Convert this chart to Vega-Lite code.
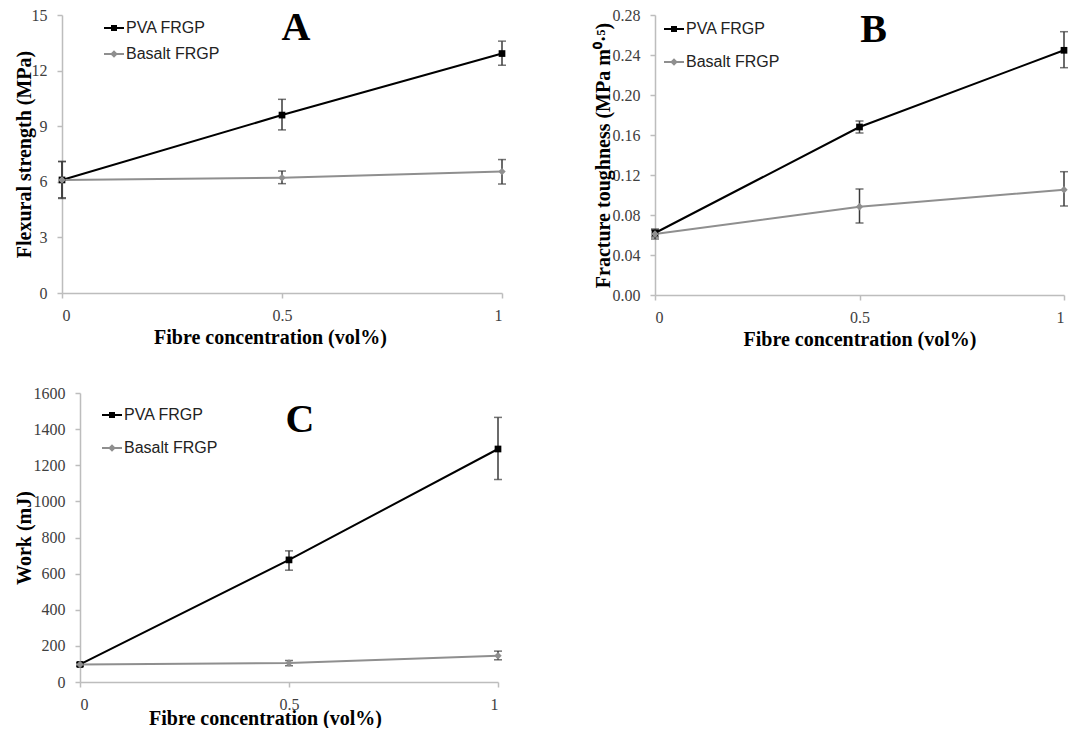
{
  "$schema": "https://vega.github.io/schema/vega-lite/v6.json",
  "background": "white",
  "padding": {"left": 14, "top": 7, "right": 0, "bottom": 0},
  "datasets": {
    "A": [
      {"conc": 0, "series": "PVA FRGP", "value": 6.1, "lo": 5.1, "hi": 7.1},
      {"conc": 0.5, "series": "PVA FRGP", "value": 9.6, "lo": 8.8, "hi": 10.45},
      {"conc": 1, "series": "PVA FRGP", "value": 12.92, "lo": 12.29, "hi": 13.59},
      {"conc": 0, "series": "Basalt FRGP", "value": 6.1, "lo": 5.14, "hi": 7.09},
      {"conc": 0.5, "series": "Basalt FRGP", "value": 6.22, "lo": 5.9, "hi": 6.58},
      {"conc": 1, "series": "Basalt FRGP", "value": 6.55, "lo": 5.88, "hi": 7.2}
    ],
    "B": [
      {"conc": 0, "series": "PVA FRGP", "value": 0.062, "lo": 0.058, "hi": 0.066},
      {"conc": 0.5, "series": "PVA FRGP", "value": 0.168, "lo": 0.162, "hi": 0.174},
      {"conc": 1, "series": "PVA FRGP", "value": 0.2447, "lo": 0.2273, "hi": 0.2633},
      {"conc": 0, "series": "Basalt FRGP", "value": 0.061, "lo": 0.056, "hi": 0.065},
      {"conc": 0.5, "series": "Basalt FRGP", "value": 0.0883, "lo": 0.072, "hi": 0.106},
      {"conc": 1, "series": "Basalt FRGP", "value": 0.1053, "lo": 0.089, "hi": 0.1233}
    ],
    "C": [
      {"conc": 0, "series": "PVA FRGP", "value": 97, "lo": 87, "hi": 107},
      {"conc": 0.5, "series": "PVA FRGP", "value": 676, "lo": 619, "hi": 726},
      {"conc": 1, "series": "PVA FRGP", "value": 1290, "lo": 1121, "hi": 1465},
      {"conc": 0, "series": "Basalt FRGP", "value": 97, "lo": 87, "hi": 107},
      {"conc": 0.5, "series": "Basalt FRGP", "value": 105, "lo": 90, "hi": 119},
      {"conc": 1, "series": "Basalt FRGP", "value": 145, "lo": 123, "hi": 171}
    ]
  },
  "vconcat": [
    {
      "hconcat": [
        {
          "width": 440, "height": 278,
          "data": {"name": "A"},
          "title": {"text": "A", "font": "Liberation Serif", "fontSize": 40, "fontWeight": "bold", "color": "#000000", "anchor": "middle", "frame": "group", "baseline": "alphabetic", "offset": -73, "dx": 14},
          "encoding": {
            "x": {"field": "conc", "type": "quantitative", "scale": {"domain": [0, 1], "nice": false},
                  "axis": {"values": [0, 0.5, 1], "format": "~g", "title": "Fibre concentration (vol%)", "titlePadding": 4, "titleX": 208}},
            "color": {"field": "series", "type": "nominal", "scale": {"domain": ["PVA FRGP", "Basalt FRGP"], "range": ["#000000", "#8f8f8f"]},
                      "legend": {"orient": "none", "legendX": 42, "legendY": 3, "rowPadding": 8,
                                 "encode": {"symbols": {"update": {
                                   "shape": {"signal": "datum.value === 'PVA FRGP' ? 'M-1,-0.09H1V0.09H-1Z M-0.3,-0.3H0.3V0.3H-0.3Z' : 'M-1,-0.09H1V0.09H-1Z M0,-0.38L0.38,0L0,0.38L-0.38,0Z'"},
                                   "fill": {"signal": "datum.value === 'PVA FRGP' ? '#000000' : '#8f8f8f'"},
                                   "stroke": {"value": "transparent"},
                                   "opacity": {"value": 1}}}}}}
          },
          "layer": [
            {"mark": {"type": "errorbar", "color": "#3a3a3a", "thickness": 1.5, "ticks": {"size": 8, "color": "#3a3a3a"}},
             "encoding": {"color": {"value": "#3a3a3a"},
                          "y": {"field": "lo", "type": "quantitative", "scale": {"domain": [0, 15], "nice": false},
                                "axis": {"values": [0, 3, 6, 9, 12, 15], "tickCount": 20, "format": "~g", "labelOverlap": false, "title": "Flexural strength (MPa)"}},
                          "y2": {"field": "hi"}}},
            {"mark": {"type": "line", "strokeWidth": 2},
             "encoding": {"y": {"field": "value", "type": "quantitative"}}},
            {"transform": [{"filter": "datum.series === 'PVA FRGP'"}],
             "mark": {"type": "point", "filled": true, "opacity": 1, "size": 45, "shape": "square"},
             "encoding": {"y": {"field": "value", "type": "quantitative"}}},
            {"transform": [{"filter": "datum.series === 'Basalt FRGP'"}],
             "mark": {"type": "point", "filled": true, "opacity": 1, "size": 55, "shape": "diamond"},
             "encoding": {"y": {"field": "value", "type": "quantitative"}}}
          ]
        },
        {
          "width": 409, "height": 280,
          "data": {"name": "B"},
          "title": {"text": "B", "font": "Liberation Serif", "fontSize": 40, "fontWeight": "bold", "color": "#000000", "anchor": "middle", "frame": "group", "baseline": "alphabetic", "offset": -75, "dx": 14},
          "encoding": {
            "x": {"field": "conc", "type": "quantitative", "scale": {"domain": [0, 1], "nice": false},
                  "axis": {"values": [0, 0.5, 1], "format": "~g", "title": "Fibre concentration (vol%)", "titlePadding": 4}},
            "color": {"field": "series", "type": "nominal", "scale": {"domain": ["PVA FRGP", "Basalt FRGP"], "range": ["#000000", "#8f8f8f"]},
                      "legend": {"orient": "none", "legendX": 9, "legendY": 4, "rowPadding": 15,
                                 "encode": {"symbols": {"update": {
                                   "shape": {"signal": "datum.value === 'PVA FRGP' ? 'M-1,-0.09H1V0.09H-1Z M-0.3,-0.3H0.3V0.3H-0.3Z' : 'M-1,-0.09H1V0.09H-1Z M0,-0.38L0.38,0L0,0.38L-0.38,0Z'"},
                                   "fill": {"signal": "datum.value === 'PVA FRGP' ? '#000000' : '#8f8f8f'"},
                                   "stroke": {"value": "transparent"},
                                   "opacity": {"value": 1}}}}}}
          },
          "layer": [
            {"mark": {"type": "errorbar", "color": "#3a3a3a", "thickness": 1.5, "ticks": {"size": 8, "color": "#3a3a3a"}},
             "encoding": {"color": {"value": "#3a3a3a"},
                          "y": {"field": "lo", "type": "quantitative", "scale": {"domain": [0, 0.28], "nice": false},
                                "axis": {"values": [0, 0.04, 0.08, 0.12, 0.16, 0.2, 0.24, 0.28], "tickCount": 20, "format": ".2f", "labelOverlap": false, "title": "Fracture toughness (MPa m⁰·⁵)", "titlePadding": -1}},
                          "y2": {"field": "hi"}}},
            {"mark": {"type": "line", "strokeWidth": 2},
             "encoding": {"y": {"field": "value", "type": "quantitative"}}},
            {"transform": [{"filter": "datum.series === 'PVA FRGP'"}],
             "mark": {"type": "point", "filled": true, "opacity": 1, "size": 45, "shape": "square"},
             "encoding": {"y": {"field": "value", "type": "quantitative"}}},
            {"transform": [{"filter": "datum.series === 'Basalt FRGP'"}],
             "mark": {"type": "point", "filled": true, "opacity": 1, "size": 55, "shape": "diamond"},
             "encoding": {"y": {"field": "value", "type": "quantitative"}}}
          ]
        }
      ],
      "spacing": 86,
      "resolve": {"scale": {"color": "independent"}, "legend": {"color": "independent"}}
    },
    {
      "hconcat": [
        {
          "width": 436, "height": 289,
          "data": {"name": "C"},
          "title": {"text": "C", "font": "Liberation Serif", "fontSize": 40, "fontWeight": "bold", "color": "#000000", "anchor": "middle", "frame": "group", "baseline": "alphabetic", "offset": -87, "dx": 20},
          "encoding": {
            "x": {"field": "conc", "type": "quantitative", "scale": {"domain": [0, 1], "nice": false, "range": [18, 436]},
                  "axis": {"values": [0, 0.5, 1], "format": "~g", "title": "Fibre concentration (vol%)", "titlePadding": -4, "titleX": 203}},
            "color": {"field": "series", "type": "nominal", "scale": {"domain": ["PVA FRGP", "Basalt FRGP"], "range": ["#000000", "#8f8f8f"]},
                      "legend": {"orient": "none", "legendX": 40, "legendY": 12, "rowPadding": 15,
                                 "encode": {"symbols": {"update": {
                                   "shape": {"signal": "datum.value === 'PVA FRGP' ? 'M-1,-0.09H1V0.09H-1Z M-0.3,-0.3H0.3V0.3H-0.3Z' : 'M-1,-0.09H1V0.09H-1Z M0,-0.38L0.38,0L0,0.38L-0.38,0Z'"},
                                   "fill": {"signal": "datum.value === 'PVA FRGP' ? '#000000' : '#8f8f8f'"},
                                   "stroke": {"value": "transparent"},
                                   "opacity": {"value": 1}}}}}}
          },
          "layer": [
            {"mark": {"type": "errorbar", "color": "#3a3a3a", "thickness": 1.5, "ticks": {"size": 8, "color": "#3a3a3a"}},
             "encoding": {"color": {"value": "#3a3a3a"},
                          "y": {"field": "lo", "type": "quantitative", "scale": {"domain": [0, 1600], "nice": false},
                                "axis": {"values": [0, 200, 400, 600, 800, 1000, 1200, 1400, 1600], "tickCount": 20, "format": "d", "labelOverlap": false, "title": "Work (mJ)", "titlePadding": -1, "offset": -18}},
                          "y2": {"field": "hi"}}},
            {"mark": {"type": "line", "strokeWidth": 2},
             "encoding": {"y": {"field": "value", "type": "quantitative"}}},
            {"transform": [{"filter": "datum.series === 'PVA FRGP'"}],
             "mark": {"type": "point", "filled": true, "opacity": 1, "size": 45, "shape": "square"},
             "encoding": {"y": {"field": "value", "type": "quantitative"}}},
            {"transform": [{"filter": "datum.series === 'Basalt FRGP'"}],
             "mark": {"type": "point", "filled": true, "opacity": 1, "size": 55, "shape": "diamond"},
             "encoding": {"y": {"field": "value", "type": "quantitative"}}}
          ]
        }
      ]
    }
  ],
  "spacing": 36,
  "resolve": {"scale": {"color": "independent"}, "legend": {"color": "independent"}},
  "config": {
    "view": {"stroke": null},
    "axis": {
      "grid": false, "labelOverlap": false,
      "domainColor": "#bdbdbd", "domainWidth": 1.5,
      "tickColor": "#bdbdbd", "tickSize": 5, "tickWidth": 1.5,
      "labelFont": "Liberation Serif", "labelFontSize": 16, "labelColor": "#404040", "labelPadding": 9,
      "titleFont": "Liberation Serif", "titleFontSize": 20, "titleFontWeight": "bold", "titleColor": "#000000"
    },
    "axisY": {"labelPadding": 10, "titlePadding": -3},
    "legend": {
      "title": null,
      "symbolSize": 400,
      "symbolType": "M-1,-0.09H1V0.09H-1Z M-0.3,-0.3H0.3V0.3H-0.3Z",
      "symbolStrokeWidth": 0,
      "labelFont": "Liberation Sans", "labelFontSize": 16, "labelColor": "#222222",
      "labelOffset": 2,
      "padding": 0
    }
  }
}
